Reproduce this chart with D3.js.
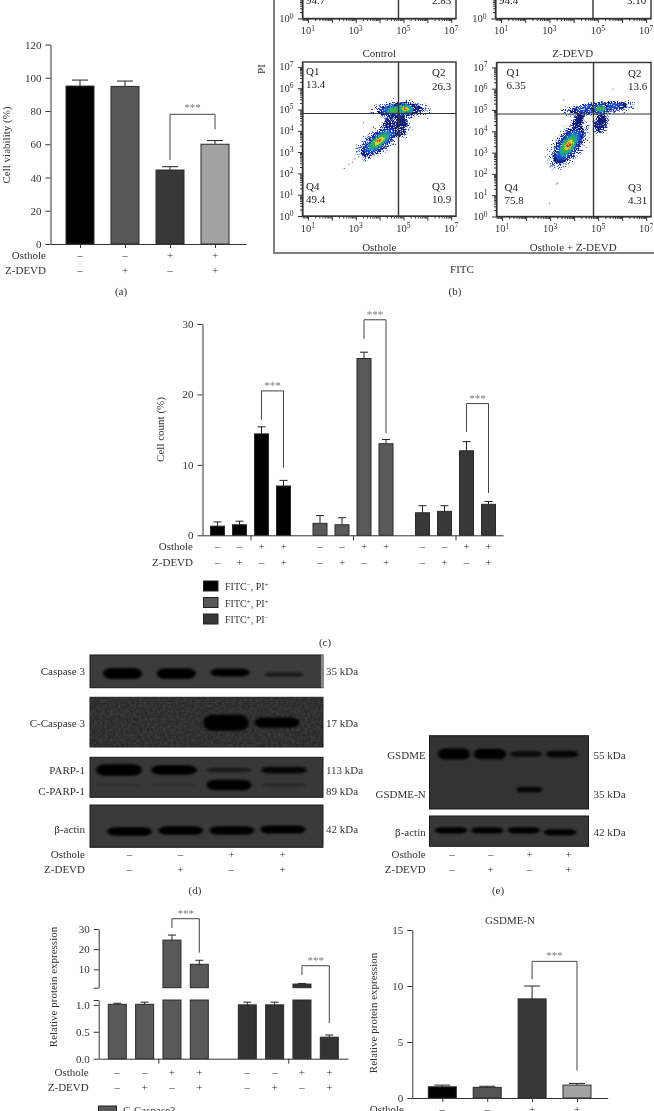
<!DOCTYPE html>
<html><head><meta charset="utf-8">
<script src="https://cdn.jsdelivr.net/npm/d3@7/dist/d3.min.js"></script>
<style>
html,body{margin:0;padding:0;background:#fff;overflow:hidden}
svg{display:block;filter:blur(0.4px)}
text{font-family:"Liberation Serif",serif;fill:#333}
</style></head><body>
<script>
// ---------- shared sign rows ----------
const ostholeSigns = ["–","–","+","+"];
const zdevdSigns   = ["–","+","–","+"];

// ---------- (a) cell viability ----------
const aValues = [95, 94.8, 44.5, 60];
const aTops   = [98.6, 98, 46.5, 62.2];
const aColors = ["#000000","#575757","#383838","#a3a3a3"];
const aTicks  = [0,20,40,60,80,100,120];

// ---------- (c) cell count ----------
const cValues = [[1.3,1.5,14.4,7],[1.7,1.5,25.1,13],[3.2,3.4,12,4.4]];
const cTops   = [[1.9,2.0,15.4,7.8],[2.8,2.5,26,13.6],[4.2,4.2,13.3,4.8]];
const cColors = ["#000000","#595959","#383838"];
const cLegend = [["FITC","−",", PI","+"],["FITC","+",", PI","+"],["FITC","+",", PI","−"]];
const cBrackets = [[20.5,16.4,9.6],[30.6,27.9,14.5],[18.7,14.7,6.0]];

// ---------- (f) relative protein expression, broken axis ----------
const fValues = [[1.01,1.01,24.5,12.5],[1.0,1.0,2.7,0.40]];
const fTops   = [[1.03,1.05,27,14.5],[1.05,1.05,3.0,0.44]];
const fColors = ["#595959","#333333"];

// ---------- (g) GSDME-N ----------
const gValues = [1.0,0.95,8.85,1.15];
const gTops   = [1.15,1.05,10,1.3];
const gColors = ["#000000","#555555","#383838","#a3a3a3"];

// ---------- (b) flow cytometry ----------
const flowNames = ["Control","Z-DEVD","Osthole","Osthole + Z-DEVD"];
const flowQuadrants = [
  ["","","2.83","94.7"],
  ["","","3.10","94.4"],
  ["13.4","26.3","10.9","49.4"],
  ["6.35","13.6","4.31","75.8"]];
// clusters: log10 FITC, log10 PI, radius (decades) along/across, tilt, hottest level
const flowClustersOsthole = [
  [4.85,4.2,0.32,0.52,18,0],[4.38,4.35,0.2,0.45,18,0],
  [3.98,3.52,0.98,0.44,-38,5],[4.85,4.98,1.0,0.34,-3,3],[5.07,5.02,0.5,0.36,0,5]];
const flowClustersCombo = [
  [5.12,4.39,0.26,0.46,15,0],[4.15,4.39,0.2,0.6,20,0],
  [3.77,3.36,0.98,0.52,-52,5],[5.03,5.09,1.3,0.26,-6,1],[5.1,5.06,0.40,0.25,0,3]];
const flowStrayOsthole = [[2.5,2.25],[2.7,2.45],[2.95,2.7],[3.1,2.8],[2.85,2.55],[5.9,5.0],[6.1,5.05],[3.3,4.4],[6.0,4.6],[3.0,3.2]];
const flowStrayCombo = [[3.0,2.5],[3.0,2.35],[3.02,2.42],[3.25,1.55],[3.3,1.6],[2.95,0.65],[3.1,3.0],[3.3,3.05],[5.6,6.0],[6.1,5.3],[3.55,5.5]];
const flowDecades = [1,2,3,4,5,6,7];
const flowLevels = ["#0b1a78","#1a4cc8","#1c9aa8","#3cb04a","#d9d92e","#e2301f"];

// ---------- (d)(e) western blots: band strength per lane ----------
const dCaspase  = [0.9,0.85,0.6,0.3];
const dCCaspase = [0,0,1.0,0.6];
const dParp     = [0.95,0.75,0.28,0.5];
const dCParp    = [0.05,0.05,0.85,0.16];
const dActin    = [0.75,0.75,0.72,0.7];
const dBlotRows = ["Caspase 3","C-Caspase 3","PARP-1","C-PARP-1","β-actin"];
const dWeights  = ["35 kDa","17 kDa","113 kDa","89 kDa","42 kDa"];
const eGsdme    = [0.9,0.85,0.42,0.5];
const eGsdmeN   = [0,0,0.5,0];
const eActin    = [0.55,0.55,0.55,0.55];
const eBlotRows = ["GSDME","GSDME-N","β-actin"];
const eWeights  = ["55 kDa","35 kDa","42 kDa"];

const W=654,H=1111;
const svg=d3.select("body").append("svg").attr("width",W).attr("height",H);
const defs=svg.append("defs");
const bf=defs.append("filter").attr("id","bandBlur").attr("x","-20%").attr("y","-80%").attr("width","140%").attr("height","260%");
bf.append("feGaussianBlur").attr("stdDeviation","1.6 1.1");
function grain(id,a,b,scale){
  const f=defs.append("filter").attr("id",id).attr("x","-30%").attr("y","-30%").attr("width","160%").attr("height","160%");
  f.append("feTurbulence").attr("type","fractalNoise").attr("baseFrequency","0.75").attr("numOctaves","2").attr("seed","7").attr("result","n");
  f.append("feDisplacementMap").attr("in","SourceGraphic").attr("in2","n").attr("scale",scale).attr("result","d");
  if(a==null) return;
  f.append("feTurbulence").attr("type","fractalNoise").attr("baseFrequency","0.95").attr("numOctaves","1").attr("seed","11");
  f.append("feColorMatrix").attr("type","matrix").attr("values",`0 0 0 0 0  0 0 0 0 0  0 0 0 0 0  ${a} 0 0 0 ${b}`).attr("result","m");
  f.append("feComposite").attr("in","d").attr("in2","m").attr("operator","in");
}
grain("grainCore",null,null,5);
grain("grainMid",9,-2.8,7);
grain("grainSparse",12,-6.6,9);
const nf=defs.append("filter").attr("id","blotNoise").attr("x","0").attr("y","0").attr("width","100%").attr("height","100%");
nf.append("feTurbulence").attr("type","fractalNoise").attr("baseFrequency","0.38").attr("numOctaves","2").attr("seed","3");
nf.append("feColorMatrix").attr("type","matrix").attr("values","0 0 0 0 0.5  0 0 0 0 0.5  0 0 0 0 0.5  1.6 0 0 0 -0.55");

function label(x,y,s,o={}){
  return svg.append("text").attr("x",x).attr("y",y).attr("text-anchor",o.anchor||"middle")
    .attr("font-size",o.size||11).style("fill",o.fill||"#333").text(s);
}
function yLabel(x,y,s){
  return svg.append("text").attr("transform",`translate(${x},${y}) rotate(-90)`).attr("text-anchor","middle")
    .attr("font-size",11).text(s);
}
function styleAxis(g){
  g.selectAll("path,line").attr("stroke","#333").attr("stroke-width",1);
  g.selectAll("text").attr("font-family","Liberation Serif").attr("font-size",11).style("fill","#333");
}
function signRows(centers,names,xLabel,y1,y2){
  label(xLabel,y1+3.5,"Osthole",{anchor:"end"});
  if(y2<H) label(xLabel,y2+3.5,"Z-DEVD",{anchor:"end"});
  centers.forEach((c,i)=>{
    const k=names[i];
    label(c,y1+3.5,ostholeSigns[k]);
    if(y2<H) label(c,y2+3.5,zdevdSigns[k]);
  });
}
function bars(g,data,fill,bw,cap){
  data.forEach(d=>{
    if(d.top!=null){
      g.append("line").attr("x1",d.x).attr("x2",d.x).attr("y1",d.y1).attr("y2",d.top).attr("stroke","#222");
      g.append("line").attr("x1",d.x-cap).attr("x2",d.x+cap).attr("y1",d.top).attr("y2",d.top).attr("stroke","#222");
    }
    g.append("rect").attr("x",d.x-bw/2).attr("width",bw).attr("y",d.y1).attr("height",Math.max(0,d.y0-d.y1))
      .attr("fill",d.fill||fill).attr("stroke","#2a2a2a").attr("stroke-width",1);
  });
}
function bracket(xa,xb,yTop,yL,yR,starOffset){
  svg.append("path").attr("d",`M${xa},${yL}V${yTop}H${xb}V${yR}`).attr("fill","none").attr("stroke","#444").attr("stroke-width",1);
  svg.append("text").attr("x",(xa+xb)/2).attr("y",yTop-(starOffset||1)).attr("text-anchor","middle").attr("font-size",11).style("fill","#777").text("***");
}
function simpleChart(o){
  const y=d3.scaleLinear().domain(o.domain).range([o.y0,o.y1]);
  const x=d3.scalePoint().domain(d3.range(o.values.length)).range(o.xr);
  const g=svg.append("g");
  bars(g,o.values.map((v,i)=>({x:x(i),y0:y(0),y1:y(v),top:y(o.tops[i]),fill:o.colors[i]})),"#000",o.bw,o.cap);
  g.append("g").attr("transform",`translate(${o.ax},0)`).call(d3.axisLeft(y).tickValues(o.ticks).tickSize(5).tickPadding(4).tickSizeOuter(0).tickFormat(d3.format("d"))).call(styleAxis);
  const xa=d3.scaleLinear().domain([o.ax,o.axEnd]).range([o.ax,o.axEnd]);
  g.append("g").attr("transform",`translate(0,${y(0)})`).call(d3.axisBottom(xa).tickValues(x.domain().map(x)).tickSize(4).tickSizeOuter(0).tickFormat("")).call(styleAxis);
  return {x,y};
}

// ---------- (a) ----------
{
  const {x,y}=simpleChart({values:aValues,tops:aTops,colors:aColors,domain:[0,120],y0:244,y1:44.5,xr:[80,215],bw:28,cap:8,ticks:aTicks,ax:50.5,axEnd:246});
  yLabel(10,145,"Cell viability (%)");
  bracket(x(2),x(3),y(78),y(50.5),y(69),3);
  signRows(x.domain().map(x),[0,1,2,3],46,255.5,270);
  label(121,295,"(a)");
}

// ---------- (b) ----------
svg.append("path").attr("d","M274,0V253H654").attr("fill","none").attr("stroke","#808080").attr("stroke-width",2);
const flowBoxes=[[302.5,456,-135.5,18.5,398.5,-84],[495.5,651,-135.5,18.5,593,-84],[302.5,456,62,216,398.5,113.5],[496.5,651,62.5,216.5,593.5,114]];
const sup=(sel,base,exp)=>{sel.append("tspan").text(base);sel.append("tspan").attr("dy",-3.5).attr("font-size",7.5).text(exp);};
flowBoxes.forEach((b,idx)=>{
  const [l,r,t,bt,cx,cy]=b;
  const g=svg.append("g");
  const xs=d3.scaleLog().domain([Math.pow(10,0.77),Math.pow(10,7.2)]).range([l,r]);
  const ys=d3.scaleLog().domain([1,Math.pow(10,7.23)]).range([bt,t]);
  const clusters= idx===2?flowClustersOsthole: idx===3?flowClustersCombo:[];
  const strays= idx===2?flowStrayOsthole: idx===3?flowStrayCombo:[];
  const sparse=g.append("g").attr("filter","url(#grainSparse)");
  const mid=g.append("g").attr("filter","url(#grainMid)");
  const core=g.append("g").attr("filter","url(#grainCore)");
  const scales=[.95,.78,.58,.42,.26,.12];
  clusters.forEach(c=>{
    const [lx,ly,ra,rb,tilt,maxL]=c;
    const px=xs(Math.pow(10,lx)),py=ys(Math.pow(10,ly));
    const rx=xs(Math.pow(10,lx+ra))-px, ry=py-ys(Math.pow(10,ly+rb));
    const add=(grp,scale,col)=>grp.append("ellipse").attr("cx",px).attr("cy",py).attr("rx",rx*scale).attr("ry",ry*scale)
        .attr("transform",`rotate(${tilt} ${px} ${py})`).attr("fill",col);
    add(sparse,1.25,flowLevels[1]);
    flowLevels.forEach((col,k)=>{
      if(k>maxL) return;
      add(k<2?mid:core,scales[k],col);
    });
  });
  strays.forEach(s=>g.append("rect").attr("x",xs(Math.pow(10,s[0]))).attr("y",ys(Math.pow(10,s[1]))).attr("width",1).attr("height",1).attr("fill","#33448a"));
  g.append("rect").attr("x",l).attr("y",t).attr("width",r-l).attr("height",bt-t).attr("fill","none").attr("stroke","#333").attr("stroke-width",1.4);
  g.append("line").attr("x1",cx).attr("x2",cx).attr("y1",t).attr("y2",bt).attr("stroke","#333").attr("stroke-width",1.4);
  g.append("line").attr("x1",l).attr("x2",r).attr("y1",cy).attr("y2",cy).attr("stroke","#333").attr("stroke-width",1.2);
  const minors=[];flowDecades.forEach(d=>{for(let m=1;m<10;m++){const v=m*Math.pow(10,d-1);if(v>=Math.pow(10,0.77))minors.push(v);}});minors.push(1e7);
  const ag=g.append("g").attr("transform",`translate(0,${bt})`).call(d3.axisBottom(xs).tickValues(minors).tickFormat("").tickSize(2.5).tickSizeOuter(0)).call(styleAxis);
  ag.selectAll(".tick line").filter(d=>Math.abs(Math.log10(d)%1)<1e-6).attr("y2",4.5);
  const yMin=[1];flowDecades.forEach(d=>{for(let m=1;m<10;m++){const v=m*Math.pow(10,d-1);if(v>1)yMin.push(v);}});yMin.push(1e7);
  const yg=g.append("g").attr("transform",`translate(${l},0)`).call(d3.axisLeft(ys).tickValues(yMin).tickFormat("").tickSize(2.5).tickSizeOuter(0)).call(styleAxis);
  yg.selectAll(".tick line").filter(d=>Math.abs(Math.log10(d)%1)<1e-6).attr("x2",-4.5);
  [1,3,5,7].forEach(d=>{
    const t2=g.append("text").attr("x",xs(Math.pow(10,d))).attr("y",bt+15.5).attr("text-anchor","middle").attr("font-size",10.5);
    sup(t2,"10",d);
  });
  [0].concat(flowDecades).forEach(d=>{
    const yy=ys(Math.pow(10,d))+3.5;
    if(yy<1) return;
    const t2=g.append("text").attr("x",l-9).attr("y",yy).attr("text-anchor","end").attr("font-size",10.5);
    sup(t2,"10",d);
  });
  const q=flowQuadrants[idx];
  const q1x=l+(idx===3?10:3.5), q2x=r-(idx===3?23:24);
  const q4x=l+(idx===3?8:3.5);
  const dy=t+13;
  const opt={anchor:"start",size:11,fill:"#222"};
  if(q[0]){
    label(q1x,dy,"Q1",opt);
    label(q1x,dy+13,q[0],opt);
    label(q2x,dy+1,"Q2",opt);
    label(q2x,dy+14.5,q[1],opt);
    label(q4x,bt-26,"Q4",opt);
    label(q4x,bt-13,q[3],opt);
    label(q2x,bt-26,"Q3",opt);
    label(q2x,bt-13,q[2],opt);
  } else {
    label(q4x,bt-15,q[3],opt);
    label(q2x,bt-15,q[2],opt);
  }
  label((l+r)/2+(idx%2?-.5:0),bt+(idx<2?38:34.5),flowNames[idx],{size:11});
});
yLabel(265,69,"PI");
label(462,273,"FITC");
label(455,295,"(b)");

// ---------- (c) ----------
{
  const y=d3.scaleLinear().domain([0,30]).range([535.3,324]);
  const x0=d3.scalePoint().domain([0,1,2]).range([250.5,455.5]);
  const x1=d3.scalePoint().domain([0,1,2,3]).range([-33,33]);
  const g=svg.append("g");
  const centers=[],names=[];
  cValues.forEach((vals,gi)=>{
    const data=vals.map((v,i)=>{centers.push(x0(gi)+x1(i));names.push(i);return {x:x0(gi)+x1(i),y0:y(0),y1:y(v),top:y(cTops[gi][i])};});
    bars(g,data,cColors[gi],14,4);
    const b=cBrackets[gi];
    bracket(x0(gi)+x1(2),x0(gi)+x1(3),y(b[0]),y(b[1]),y(b[2]),2);
  });
  g.append("g").attr("transform","translate(202.5,0)").call(d3.axisLeft(y).tickValues([0,10,20,30]).tickSize(5).tickPadding(4).tickSizeOuter(0)).call(styleAxis);
  const xa=d3.scaleLinear().domain([202.5,503]).range([202.5,503]);
  g.append("g").attr("transform",`translate(0,${y(0)})`).call(d3.axisBottom(xa).tickValues(x0.domain().map(x0)).tickSize(5).tickSizeOuter(0).tickFormat("")).call(styleAxis);
  yLabel(164,429.5,"Cell count (%)");
  signRows(centers,names,193,546,562);
  cLegend.forEach((l,i)=>{
    const yy=581+i*16.5;
    svg.append("rect").attr("x",203.5).attr("y",yy).attr("width",14.5).attr("height",10).attr("fill",cColors[i]).attr("stroke","#222");
    const t=svg.append("text").attr("x",225).attr("y",yy+9).attr("font-size",10);
    t.append("tspan").text(l[0]);
    t.append("tspan").attr("dy",-3).attr("font-size",7).text(l[1]);
    t.append("tspan").attr("dy",3).text(l[2]);
    t.append("tspan").attr("dy",-3).attr("font-size",7).text(l[3]);
  });
  label(325,645.5,"(c)");
}

// ---------- blots ----------
function blot(o){
  const g=svg.append("g");
  g.append("rect").attr("x",o.l).attr("y",o.t).attr("width",o.r-o.l).attr("height",o.b-o.t).attr("fill",o.bg).attr("stroke","#1a1a1a").attr("stroke-width",1);
  if(o.noise) g.append("rect").attr("x",o.l).attr("y",o.t).attr("width",o.r-o.l).attr("height",o.b-o.t).attr("filter","url(#blotNoise)").attr("opacity",.16);
  const bg=g.append("g").attr("filter","url(#bandBlur)");
  o.rows.forEach(row=>{
    const lane=d3.scalePoint().domain(d3.range(4)).range(row.range);
    const thick=d3.scaleLinear().domain([0,1]).range([1.5,row.maxT||10]);
    row.vals.forEach((v,i)=>{
      if(v<=0) return;
      const w=row.w, t=thick(v);
      bg.append("rect").attr("x",lane(i)-w/2).attr("width",w).attr("y",row.y+(row.skew?row.skew[i]:0)-t/2).attr("height",t)
        .attr("rx",w*0.2).attr("ry",t/2).attr("fill","#040404").attr("opacity",Math.min(1,.1+1.6*v));
    });
  });
  if(o.edge) g.append("line").attr("x1",o.r-1).attr("x2",o.r-1).attr("y1",o.t).attr("y2",o.b).attr("stroke","#dcdcdc");
}
blot({l:90,r:323,t:655,b:687.7,bg:"#3c3c3c",edge:true,rows:[{vals:dCaspase,y:673.5,range:[122.5,284],w:39,maxT:12,skew:[0,0,-1,1]}]});
blot({l:90,r:323,t:697.3,b:747,bg:"#2b2b2b",noise:true,rows:[{vals:dCCaspase,y:722.7,range:[124,277],w:45,maxT:16}]});
blot({l:90,r:323,t:757.3,b:797.3,bg:"#383838",rows:[
  {vals:dParp,y:770,range:[119,284],w:46,maxT:12},
  {vals:dCParp,y:785,range:[119,284],w:45,maxT:12}]});
blot({l:90,r:323,t:805,b:847.3,bg:"#3a3a3a",rows:[{vals:dActin,y:830.5,range:[129.5,283],w:45,maxT:11,skew:[1,0,0,-1]}]});
[671.7,723,770,791,829].forEach((yy,i)=>{
  label(85,yy+3.5,dBlotRows[i],{anchor:"end"});
  label(326,yy+3.5,dWeights[i],{anchor:"start"});
});
signRows([129.5,180.5,231.5,282.5],[0,1,2,3],85,854,869);
label(195,893.5,"(d)");

blot({l:429.5,r:588.5,t:735.7,b:809,bg:"#333333",rows:[
  {vals:eGsdme,y:754,range:[454,562],w:32,maxT:12},
  {vals:eGsdmeN,y:789.7,range:[452,568],w:26,maxT:10}]});
blot({l:429.5,r:588.5,t:816,b:846.3,bg:"#383838",rows:[{vals:eActin,y:830.3,range:[451,560],w:32,maxT:10,skew:[0,0,0,2]}]});
[755,794.5,832].forEach((yy,i)=>{
  label(425.7,yy+3.5,eBlotRows[i],{anchor:"end"});
  label(593.5,yy+3.5,eWeights[i],{anchor:"start"});
});
signRows([452,490.7,529.7,568.7],[0,1,2,3],425.7,854,869);
label(498,894,"(e)");

// ---------- (f) ----------
{
  const lo=d3.scaleLinear().domain([0,1.09]).range([1058.7,1000]);
  const hi=d3.scaleLinear().domain([0.9,30]).range([987.7,929]);
  const x0=d3.scalePoint().domain([0,1]).range([158.3,288.3]);
  const x1=d3.scalePoint().domain([0,1,2,3]).range([-41,41]);
  const g=svg.append("g");
  const centers=[],names=[];
  fValues.forEach((vals,gi)=>{
    vals.forEach((v,i)=>{
      const cx=x0(gi)+x1(i);centers.push(cx);names.push(i);
      const err=fTops[gi][i];
      if(v<=1.09){
        bars(g,[{x:cx,y0:lo(0),y1:lo(v),top:lo(err)}],fColors[gi],18,4);
      }else{
        bars(g,[{x:cx,y0:lo(0),y1:lo(1.09)}],fColors[gi],18,4);
        bars(g,[{x:cx,y0:hi(0.9),y1:hi(v),top:hi(err)}],fColors[gi],18,4);
      }
    });
  });
  const fmt=d3.format(".1f");
  g.append("g").attr("transform","translate(98.7,0)").call(d3.axisLeft(lo).tickValues([0,.5,1,1.09]).tickSize(5).tickPadding(4).tickSizeOuter(0).tickFormat(d=>d===1.09?"":fmt(d))).call(styleAxis);
  g.append("g").attr("transform","translate(98.7,0)").call(d3.axisLeft(hi).tickValues([0.9,10,20,30]).tickSize(5).tickPadding(4).tickSizeOuter(0).tickFormat(d=>d===0.9?"":d3.format("d")(d))).call(styleAxis);
  const xa=d3.scaleLinear().domain([98.7,348]).range([98.7,348]);
  g.append("g").attr("transform",`translate(0,${lo(0)})`).call(d3.axisBottom(xa).tickValues(x0.domain().map(x0)).tickSize(5).tickSizeOuter(0).tickFormat("")).call(styleAxis);
  yLabel(57,987,"Relative protein expression");
  bracket(x0(0)+x1(2),x0(0)+x1(3),hi(35.1),hi(30.5),hi(18.25),2);
  bracket(x0(1)+x1(2),x0(1)+x1(3),hi(11.8),hi(7.2),lo(0.66),2);
  signRows(centers,names,88.7,1072,1087);
  svg.append("rect").attr("x",98.5).attr("y",1106).attr("width",18).attr("height",11).attr("fill",fColors[0]).attr("stroke","#222");
  label(123,1114,"C-Caspase3",{anchor:"start"});
}

// ---------- (g) ----------
{
  const {x,y}=simpleChart({values:gValues,tops:gTops,colors:gColors,domain:[0,15],y0:1098,y1:930,xr:[442.3,577],bw:28,cap:8,ticks:[0,5,10,15],ax:412.3,axEnd:607.7});
  label(510,923.5,"GSDME-N");
  yLabel(377,1013,"Relative protein expression");
  bracket(x(2),x(3),y(12.2),y(10.6),y(2.45),2);
  signRows(x.domain().map(x),[0,1,2,3],404,1109,1124);
}
</script>
</body></html>
